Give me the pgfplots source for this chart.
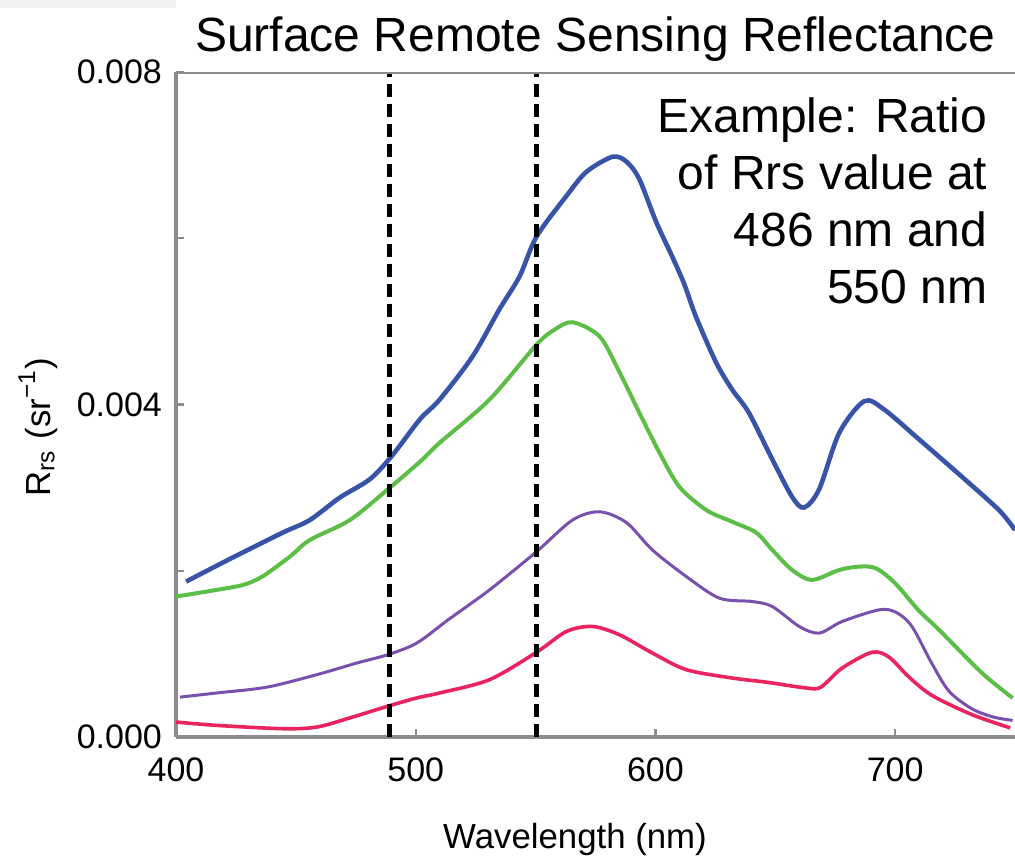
\documentclass[border=0pt]{standalone}
\usepackage{fontspec}
\setmainfont{Liberation Sans}
\usepackage{pgfplots}
\pgfplotsset{compat=1.18}
\definecolor{cblue}{RGB}{56,84,168}
\definecolor{cgreen}{RGB}{92,190,70}
\definecolor{cpurple}{RGB}{122,80,174}
\definecolor{cred}{RGB}{234,36,94}
\definecolor{axgray}{RGB}{140,140,140}
\definecolor{boxgray}{RGB}{242,242,242}
\begin{document}
\begin{tikzpicture}
\path[use as bounding box] (0,0) rectangle (253.75pt,215pt);
\fill[boxgray] (0,213pt) rectangle (44pt,215pt);
\begin{axis}[
  at={(44pt,30.75pt)}, anchor=south west,
  scale only axis, width=209.75pt, height=166.25pt,
  xmin=400, xmax=750, ymin=0, ymax=0.008,
  axis x line*=bottom, axis y line*=left,
  axis line style={-, axgray, line width=0.8pt},
  xtick={400,500,600,700}, xticklabels={400,500,600,700},
  ytick={0,0.002,0.004,0.006,0.008}, yticklabels={0.000,,0.004,,0.008},
  scaled y ticks=false,
  tick align=inside, major tick length=2pt,
  tick style={axgray, line width=0.6pt},
  ticklabel style={font=\fontsize{8.5}{10}\selectfont},
  xticklabel style={yshift=-1.7pt},
  title={Surface Remote Sensing Reflectance},
  title style={font=\fontsize{12}{14}\selectfont, at={(0.5,1)}, anchor=base, yshift=-0.75pt, inner sep=0pt},
  xlabel={Wavelength (nm)},
  xlabel style={font=\fontsize{8.7}{10}\selectfont, at={(0.4756,0)}, anchor=base, yshift=-27.75pt, inner sep=0pt},
  ylabel={R\textsubscript{rs} (sr\textsuperscript{−1})},
  ylabel style={font=\fontsize{8.7}{10}\selectfont, at={(0,0.466)}, anchor=center, yshift=34.5pt, inner sep=0pt},
  clip=true,
]
% blue
\addplot[cblue, line width=1.15pt, smooth, tension=0.5] coordinates {
(404.2,0.00187) (423.7,0.00216) (444.6,0.00246) (455.8,0.00261) (468.3,0.00288)
(480.8,0.00310) (490,0.00338) (501.7,0.00382) (510,0.00406) (523.75,0.00458)
(535,0.00515) (543.3,0.00554) (550.4,0.00602) (562.9,0.00651) (571.25,0.00680)
(582.1,0.00698) (588,0.00692) (593.3,0.00671) (600.4,0.00619) (607,0.00578)
(612,0.00545) (617,0.00505) (625.4,0.00450) (632,0.00418) (639,0.00390)
(648.75,0.00334) (657,0.00289) (662,0.00276) (668.3,0.00298) (676.7,0.00366)
(687.1,0.00404) (695.4,0.00394) (710,0.00358) (726.7,0.00316) (743.3,0.00273)
(750,0.00249)};
% green
\addplot[cgreen, line width=1.0pt, smooth, tension=0.5] coordinates {
(400,0.00169) (417,0.00177) (428,0.00183) (436,0.00193) (447.5,0.00217)
(455.8,0.00237) (472.5,0.00261) (489.2,0.00300) (501.7,0.00331) (510,0.00354)
(530.8,0.00406) (550.4,0.00472) (557.9,0.00490) (565.4,0.00499) (576.7,0.00482)
(585,0.00439) (593.3,0.00390) (601.7,0.00342) (610,0.00301) (621.25,0.00273)
(632,0.00259) (642,0.00246) (648.75,0.00225) (657,0.00201) (665.4,0.00189)
(676.7,0.00201) (685,0.00205) (692,0.00203) (700,0.00185) (709.6,0.00153)
(718.3,0.00129) (736.25,0.00077) (749,0.00047)};
% purple
\addplot[cpurple, line width=0.75pt, smooth, tension=0.5] coordinates {
(401.7,0.00048) (417,0.00053) (437.9,0.00060) (458.75,0.00075) (475.4,0.00089)
(488.3,0.00099) (500.4,0.00113) (514,0.00142) (530.8,0.00177) (550.4,0.00223)
(565.4,0.00261) (576.7,0.00271) (587.9,0.00258) (598.75,0.00225) (612.9,0.00193)
(626.7,0.00167) (640.4,0.00163) (648.75,0.00157) (660,0.00133) (668.3,0.00125)
(677.9,0.00139) (693.3,0.00153) (700.4,0.00150) (707,0.00133) (715.4,0.00088)
(722.5,0.00055) (732,0.00034) (741,0.00024) (749,0.00020)};
% red
\addplot[cred, line width=0.9pt, smooth, tension=0.5] coordinates {
(400,0.00018) (417,0.00014) (444.6,0.00010) (458.75,0.00012) (472.5,0.00023)
(488.3,0.00037) (500.4,0.00047) (510,0.00053) (530.8,0.00069) (550.4,0.00102)
(562.9,0.00127) (573.75,0.00133) (585,0.00123) (598.75,0.00101) (612.9,0.00081)
(632,0.00071) (646.25,0.00066) (662.9,0.00059) (669,0.00060) (677.9,0.00083)
(690.4,0.00102) (697.5,0.00096) (705.8,0.00072) (715.4,0.00050) (732,0.00027)
(748,0.00011)};
% dashed markers
\addplot[black, line width=1.2pt, dash pattern=on 3.3pt off 1.7pt] coordinates {(489,0) (489,0.008)};
\addplot[black, line width=1.2pt, dash pattern=on 3.3pt off 1.7pt] coordinates {(550.5,0) (550.5,0.008)};
\draw[axgray, line width=0.8pt] (rel axis cs:0,1) -- (rel axis cs:1,1);
\node[anchor=north east, align=right, inner sep=0pt, font=\fontsize{12}{14.2}\selectfont]
  at (rel axis cs:0.968,0.962) {Example: Ratio\\of Rrs value at\\486 nm and\\550 nm};
\end{axis}
\end{tikzpicture}
\end{document}
